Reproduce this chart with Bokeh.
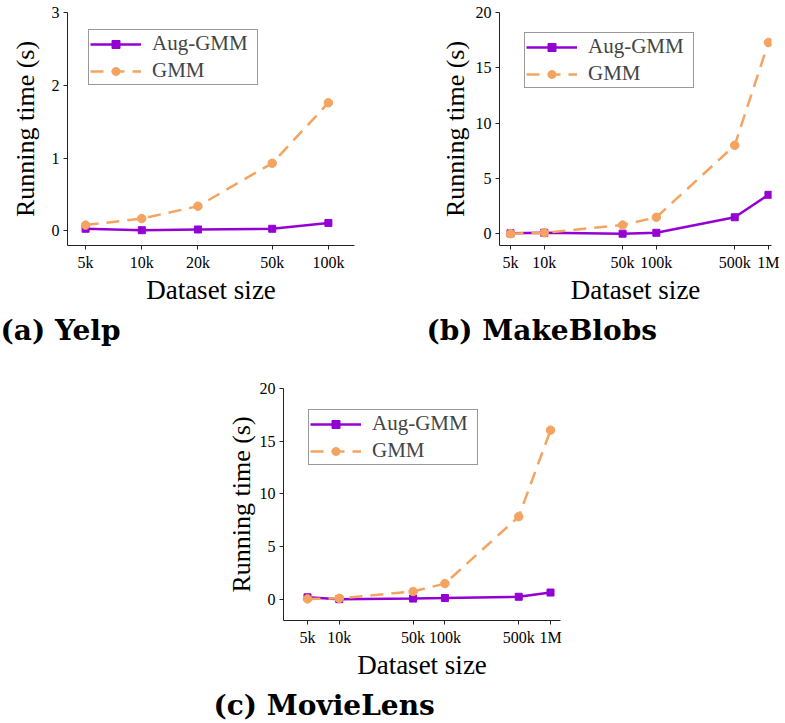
from bokeh.plotting import figure
from bokeh.layouts import column, row, Spacer
from bokeh.models import FixedTicker, Legend, LegendItem, Title, Range1d
from bokeh.embed import file_html
from bokeh.resources import INLINE

# ---- data ----
sizes_yelp = [5000, 10000, 20000, 50000, 100000]
ticklabels_yelp = ["5k", "10k", "20k", "50k", "100k"]
aug_yelp = [0.03, 0.01, 0.02, 0.03, 0.11]
gmm_yelp = [0.08, 0.17, 0.34, 0.93, 1.76]

sizes_large = [5000, 10000, 50000, 100000, 500000, 1000000]
ticklabels_large = ["5k", "10k", "50k", "100k", "500k", "1M"]
aug_blobs = [0.05, 0.1, 0.02, 0.1, 1.5, 3.53]
gmm_blobs = [0.02, 0.1, 0.8, 1.5, 8.0, 17.3]
aug_movie = [0.2, 0.02, 0.08, 0.13, 0.25, 0.65]
gmm_movie = [0.05, 0.1, 0.75, 1.5, 7.85, 16.05]

yticks_yelp = [0, 1, 2, 3]
yticks_large = [0, 5, 10, 15, 20]

AUG_COLOR = "#9400d3"
GMM_COLOR = "#f4a460"
SERIF = "Liberation Serif"


def panel(sizes, ticklabels, aug, gmm, xr, yr, yticks, fw, fh, bl, br, bt, bb,
          leg_loc, caption, cap_offset, ylab_standoff):
    p = figure(x_axis_type="log", x_range=Range1d(*xr), y_range=Range1d(*yr),
               frame_width=fw, frame_height=fh, min_border_left=bl,
               min_border_right=br, min_border_top=bt, min_border_bottom=bb,
               output_backend="svg", toolbar_location=None,
               background_fill_color="white", border_fill_color="white")
    p.outline_line_color = None
    p.grid.visible = False

    p.xaxis.ticker = FixedTicker(ticks=sizes)
    p.xaxis.major_label_overrides = {s: l for s, l in zip(sizes, ticklabels)}
    p.yaxis.ticker = FixedTicker(ticks=yticks)
    for ax in (p.xaxis, p.yaxis):
        ax.minor_tick_line_color = None
        ax.major_tick_in = 0
        ax.major_tick_out = 4
        ax.axis_line_color = "#222222"
        ax.major_tick_line_color = "#222222"
        ax.major_label_text_font = SERIF
        ax.major_label_text_font_size = "16px"
        ax.major_label_text_color = "black"
        ax.axis_label_text_font = SERIF
        ax.axis_label_text_font_style = "normal"
        ax.axis_label_text_color = "black"
        ax.major_label_standoff = 4
    p.xaxis.axis_label = "Dataset size"
    p.yaxis.axis_label = "Running time (s)"
    p.xaxis.axis_label_text_font_size = "27px"
    p.yaxis.axis_label_text_font_size = "26px"
    p.xaxis.axis_label_standoff = 1
    p.yaxis.axis_label_standoff = ylab_standoff

    l1 = p.line(sizes, aug, line_color=AUG_COLOR, line_width=2.5)
    m1 = p.scatter(sizes, aug, marker="square", size=7, fill_color=AUG_COLOR,
                   line_color=AUG_COLOR)
    l2 = p.line(sizes, gmm, line_color=GMM_COLOR, line_width=2.5,
                line_dash="13 8")
    m2 = p.scatter(sizes, gmm, marker="circle", size=8.5, fill_color=GMM_COLOR,
                   line_color=GMM_COLOR)

    legend = Legend(items=[LegendItem(label="Aug-GMM", renderers=[l1, m1]),
                           LegendItem(label="GMM", renderers=[l2, m2])],
                    location=leg_loc,
                    label_text_font=SERIF, label_text_font_size="21px",
                    glyph_width=51, glyph_height=20, label_height=20,
                    label_width=104,
                    label_standoff=11, spacing=2, padding=1, margin=0,
                    border_line_color="#333333", border_line_width=1,
                    background_fill_color="white", background_fill_alpha=1)
    p.add_layout(legend, "center")

    t = Title(text=caption, align="left", offset=cap_offset,
              text_font="DejaVu Serif", text_font_size="28px",
              text_font_style="bold", text_color="black", standoff=8)
    p.add_layout(t, "below")
    return p


pa = panel(sizes_yelp, ticklabels_yelp, aug_yelp, gmm_yelp,
           (4000, 138000), (-0.2, 3), yticks_yelp,
           287, 233, 67, 46, 12, 115, (21, 160), "(a) Yelp", -67, 9)
pb = panel(sizes_large, ticklabels_large, aug_blobs, gmm_blobs,
           (3990, 1064000), (-1.05, 20), yticks_large,
           272, 233, 99, 14, 12, 115, (25, 157), "(b) MakeBlobs", -73, 3)
pc = panel(sizes_large, ticklabels_large, aug_movie, gmm_movie,
           (2963, 1243000), (-2, 20), yticks_large,
           277, 232, 83, 10, 28, 103, (25, 155), "(c) MovieLens", -70, 1)

layout = column(row(pa, pb), row(Spacer(width=200, height=363), pc))
open("out.html", "w").write(file_html(layout, INLINE))
